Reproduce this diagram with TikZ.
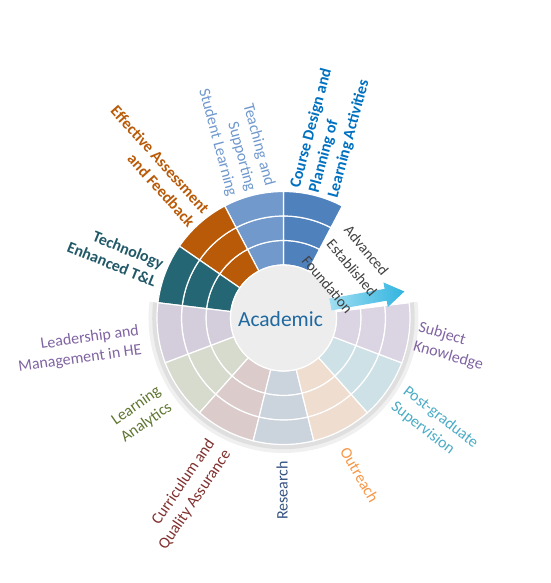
\documentclass[tikz,border=0pt]{standalone}
\usepackage{fontspec}
\setmainfont{Carlito}

\definecolor{techcol}{RGB}{37,102,116}
\definecolor{assesscol}{RGB}{184,90,8}
\definecolor{teachcol}{RGB}{114,153,204}
\definecolor{coursecol}{RGB}{79,129,189}
\definecolor{leadcol}{RGB}{212,206,220}
\definecolor{analytcol}{RGB}{214,219,206}
\definecolor{curriccol}{RGB}{219,203,203}
\definecolor{researchcol}{RGB}{203,211,221}
\definecolor{outreachcol}{RGB}{239,221,207}
\definecolor{postgradcol}{RGB}{206,225,230}
\definecolor{subjectcol}{RGB}{218,212,227}
\definecolor{centrecol}{RGB}{237,237,237}
\definecolor{coursetext}{RGB}{0,112,192}
\definecolor{teachtext}{RGB}{111,152,205}
\definecolor{techtext}{RGB}{33,89,104}
\definecolor{leadtext}{RGB}{128,100,162}
\definecolor{analyttext}{RGB}{95,117,48}
\definecolor{currictext}{RGB}{127,48,46}
\definecolor{researchtext}{RGB}{52,82,130}
\definecolor{outreachtext}{RGB}{247,150,70}
\definecolor{postgradtext}{RGB}{75,172,198}
\definecolor{acadtext}{RGB}{31,105,160}
\definecolor{arrowlight}{RGB}{160,222,242}
\definecolor{arrowdark}{RGB}{50,180,224}

\tikzset{
  cell/.style={draw=white,line width=1.2pt},
  lbl/.style={inner sep=0pt,font=\fontsize{16}{19.5}\selectfont},
  lvl/.style={inner sep=0pt,font=\fontsize{15}{18}\selectfont,rotate=-50,text=black!75},
}

\newcommand{\wheelpart}[3]{%
  \foreach \ri/\ro in {53/77.5,77.5/102,102/126.5}
    \draw[cell,fill=#3] (#1:\ri) arc[start angle=#1,end angle=#2,radius=\ri]
      -- (#2:\ro) arc[start angle=#2,end angle=#1,radius=\ro] -- cycle;}

\begin{document}
\begin{tikzpicture}[x=1pt,y=1pt]
    \useasboundingbox (-283.5,-265) rectangle (266.5,318);
    \draw[gray!12,line width=4pt] (173.08:133) arc[start angle=173.08,end angle=366.92,radius=133];
    \draw[gray!25,line width=4.5pt] (173.08:129) arc[start angle=173.08,end angle=366.92,radius=129];
    \wheelpart{62.31}{90}{coursecol}
    \wheelpart{90}{117.69}{teachcol}
    \wheelpart{117.69}{145.38}{assesscol}
    \wheelpart{145.38}{173.08}{techcol}
    \wheelpart{173.08}{200.77}{leadcol}
    \wheelpart{200.77}{228.46}{analytcol}
    \wheelpart{228.46}{256.15}{curriccol}
    \wheelpart{256.15}{283.85}{researchcol}
    \wheelpart{283.85}{311.54}{outreachcol}
    \wheelpart{311.54}{339.23}{postgradcol}
    \wheelpart{339.23}{366.92}{subjectcol}
    \draw[cell,fill=centrecol] (0,0) circle (53);
    \coordinate (tail) at (47,13.5);
    \begin{scope}[shift={(tail)},rotate=10]
      \shade[left color=arrowlight,right color=arrowdark]
        (0,-6) -- (56,-6) -- (56,-12.5) -- (75,0) -- (56,12.5) -- (56,6) -- (0,6) -- cycle;
    \end{scope}
    \node[font=\fontsize{21.5}{24}\selectfont,text=acadtext,inner sep=0pt] (acad) at (-3,-1) {Academic};
    \node[lvl] (fnd) at (44,33.5) {Foundation};
    \node[lvl] (est) at (68.5,50) {Established};
    \node[lvl] (adv) at (83,67.5) {Advanced};
    \node[lbl,anchor=west,rotate=75,align=left,text=coursetext,font=\fontsize{16}{19.5}\selectfont\bfseries]
      (course) at (76.2:129) {Course Design and\\Planning of\\Learning Activities};
    \node[lbl,anchor=east,rotate=-75,align=right,text=teachtext]
      (teach) at (104.5:131) {Teaching and\\Supporting\\Student Learning};
    \node[lbl,anchor=east,rotate=-48,align=right,text=assesscol,font=\fontsize{16}{19.5}\selectfont\bfseries]
      (assess) at (130:131) {Effective Assessment\\and Feedback};
    \node[lbl,anchor=east,rotate=-22,align=right,text=techtext,font=\fontsize{16}{19.5}\selectfont\bfseries]
      (tech) at (160:132) {Technology\\Enhanced T\&L};
    \node[lbl,anchor=east,rotate=8,align=right,text=leadtext]
      (lead) at (189:145) {Leadership and\\Management in HE};
    \node[lbl,anchor=east,rotate=35,align=right,text=analyttext]
      (analyt) at (214:143) {Learning\\Analytics};
    \node[lbl,anchor=east,rotate=56,align=right,text=currictext]
      (curric) at (243.5:143) {Curriculum and\\Quality Assurance};
    \node[lbl,anchor=east,rotate=90,text=researchtext]
      (research) at (269.5:143) {Research};
    \node[lbl,anchor=west,rotate=-60,text=outreachtext]
      (outreach) at (295:144) {Outreach};
    \node[lbl,anchor=west,rotate=-38,align=left,text=postgradtext]
      (postgrad) at (-34.5:140) {Post-graduate\\Supervision};
    \node[lbl,anchor=west,rotate=-16,align=left,text=leadtext]
      (subject) at (-8:134) {Subject\\Knowledge};
\end{tikzpicture}
\end{document}
